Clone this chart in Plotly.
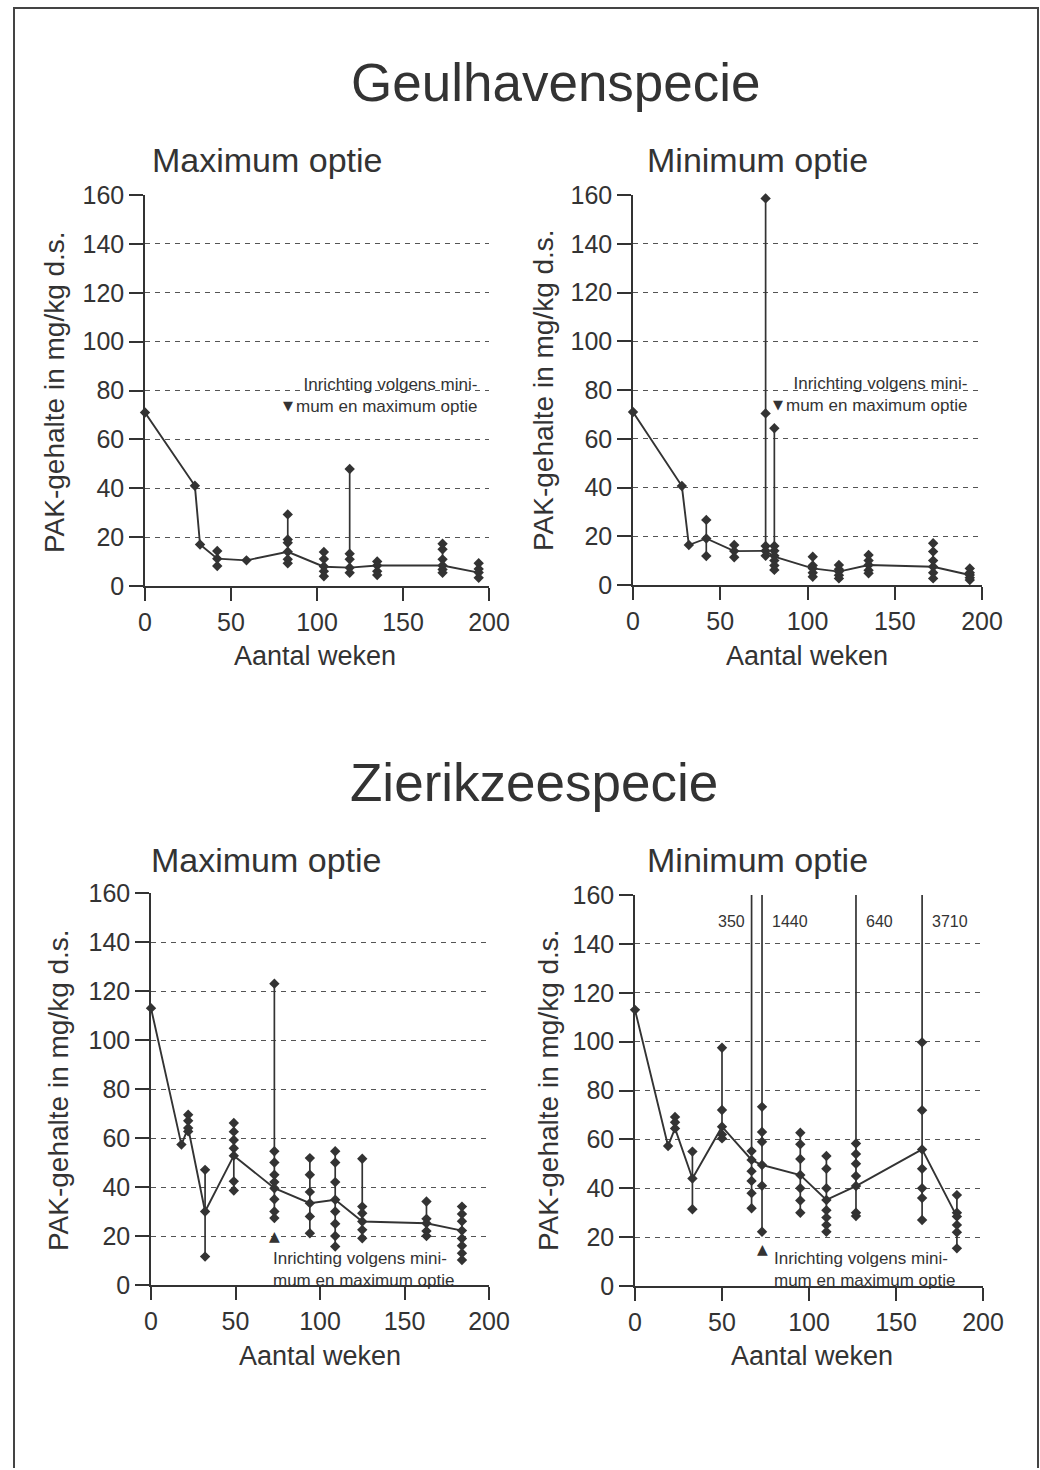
import plotly.graph_objects as go

# ---------------- data ----------------
# Geulhavenspecie - Maximum optie
geul_max_weeks = [0, 29, 32, 42, 59, 83, 104, 119, 135, 173, 194]
geul_max_central = [71, 41, 17, 11.2, 10.5, 14, 7.9, 7.5, 8.4, 8.4, 5.5]
geul_max_samples = [[71], [41], [17], [14.3, 11.2, 8.2], [10.5],
                    [29.3, 19, 17.7, 14, 10.9, 9.3], [13.9, 11, 8, 6, 4],
                    [47.9, 13.2, 10.9, 7.5, 5.4], [10, 8.4, 6, 4.5],
                    [17.3, 15, 10.9, 8.4, 6.8, 5.4], [9.3, 7, 5.5, 3.4]]

# Geulhavenspecie - Minimum optie
geul_min_weeks = [0, 28, 32, 42, 58, 76, 81, 103, 118, 135, 172, 193]
geul_min_central = [71, 40.6, 16.4, 19.1, 13.9, 14.0, 11.6, 6.8, 5.5, 8.2, 7.5, 4.1]
geul_min_samples = [[71], [40.6], [16.4], [26.7, 19.1, 11.9], [16.4, 13.9, 11.4],
                    [158.6, 70.4, 16, 14, 12], [64.3, 16, 14, 12, 10, 8, 6.2],
                    [11.6, 8, 6.8, 5, 3.4], [8.2, 6.5, 5.5, 4, 2.7],
                    [12.3, 10, 8.2, 6, 4.8], [17.1, 13.7, 10, 7.5, 5, 2.7],
                    [6.8, 5, 4.1, 3, 2]]

# Zierikzeespecie - Maximum optie
zier_max_weeks = [0, 18, 22, 32, 49, 73, 94, 109, 125, 163, 184]
zier_max_central = [113, 57.3, 64.1, 30, 52.8, 39.5, 33.4, 34.8, 25.9, 25.2, 22.2]
zier_max_samples = [[113], [57.3], [69.5, 67, 64.1, 62.7], [47, 30, 11.6],
                    [66.1, 62.6, 59.2, 55.8, 52.8, 42.3, 38.6],
                    [123, 54.6, 50, 45, 42, 39.5, 35, 30, 27.3],
                    [51.8, 45, 38, 33.4, 28, 21.1],
                    [54.6, 50, 42, 34.8, 30, 25, 20, 15.7],
                    [51.5, 32, 29.3, 25.9, 22.5, 19.1],
                    [34.1, 27, 25.2, 22, 20],
                    [32, 29, 26, 22.2, 19, 16, 13, 10.2]]

# Zierikzeespecie - Minimum optie
zier_min_weeks = [0, 19, 23, 33, 50, 67, 73, 95, 110, 127, 165, 185]
zier_min_central = [113, 57.3, 64.5, 44, 65.2, 51.6, 49.5, 45.4, 35.2, 40.9, 55.9, 28.4]
zier_min_samples = [[113], [57.3], [69.2, 67, 64.5], [55, 44, 31.4],
                    [97.5, 72, 65.2, 62, 60.4],
                    [350, 55.2, 51.6, 47, 43, 38, 31.8],
                    [1440, 73.3, 63, 59, 49.5, 41, 22.2],
                    [62.7, 58, 52, 45.4, 40, 35, 30],
                    [53.2, 48, 40, 35.2, 31, 28, 25, 22.2],
                    [640, 58.3, 54, 50, 45, 40.9, 30, 28.6],
                    [3710, 99.7, 71.9, 55.9, 48, 40, 36, 27],
                    [37.2, 30, 28.4, 25, 22, 15.4]]

# week of "Inrichting volgens minimum en maximum optie"
event_week_geul = 83
event_week_zier = 73

x_ticks = [0, 50, 100, 150, 200]
y_ticks = [0, 20, 40, 60, 80, 100, 120, 140, 160]
Y_MAX = 160

# ---------------- layout helpers ----------------
W, H = 1040, 1470
INK = "#333333"
FONT = "Liberation Sans, Arial, sans-serif"


def px(x):
    return x / W


def py(y):
    return 1 - y / H


fig = go.Figure()

panels = [
    dict(weeks=geul_max_weeks, central=geul_max_central, samples=geul_max_samples,
         xd=[145, 489], yd=[586, 195]),
    dict(weeks=geul_min_weeks, central=geul_min_central, samples=geul_min_samples,
         xd=[633, 982], yd=[585, 195]),
    dict(weeks=zier_max_weeks, central=zier_max_central, samples=zier_max_samples,
         xd=[151, 489], yd=[1285, 893]),
    dict(weeks=zier_min_weeks, central=zier_min_central, samples=zier_min_samples,
         xd=[635, 983], yd=[1286, 895]),
]

for i, p in enumerate(panels):
    sfx = "" if i == 0 else str(i + 1)
    xa, ya = "x" + sfx, "y" + sfx
    # vertical ranges
    rx, ry = [], []
    for w, s in zip(p["weeks"], p["samples"]):
        if len(s) > 1:
            rx += [w, w, None]
            ry += [min(s), max(s), None]
    fig.add_trace(go.Scatter(x=rx, y=ry, mode="lines", xaxis=xa, yaxis=ya,
                             line=dict(color=INK, width=1.7), showlegend=False,
                             hoverinfo="skip"))
    # central line
    fig.add_trace(go.Scatter(x=p["weeks"], y=p["central"], mode="lines", xaxis=xa, yaxis=ya,
                             line=dict(color=INK, width=1.9), showlegend=False))
    # individual samples (only those within the visible range)
    mx, my = [], []
    for w, s in zip(p["weeks"], p["samples"]):
        for v in s:
            if v <= Y_MAX:
                mx.append(w)
                my.append(v)
    fig.add_trace(go.Scatter(x=mx, y=my, mode="markers", xaxis=xa, yaxis=ya,
                             marker=dict(symbol="diamond", size=8, color=INK),
                             cliponaxis=False, showlegend=False))
    # labels for values exceeding the axis
    if i == 3:
        for w, s in zip(p["weeks"], p["samples"]):
            top = max(s)
            if top > Y_MAX:
                left = w < 70
                fig.add_annotation(x=w, y=149, xref=xa, yref=ya, text=f"{top:g}",
                                   showarrow=False,
                                   xanchor="right" if left else "left",
                                   xshift=-5 if left else 8,
                                   font=dict(family=FONT, size=16, color=INK))

    axis_common = dict(showline=True, linecolor=INK, linewidth=1.5,
                       ticks="outside", tickcolor=INK, tickwidth=1.5,
                       tickfont=dict(family=FONT, size=25, color=INK),
                       zeroline=False, automargin=False)
    fig.update_layout(**{
        ("xaxis" + sfx): dict(domain=[px(p["xd"][0]), px(p["xd"][1])], range=[0, 200],
                              tickvals=x_ticks, ticklen=13, showgrid=False,
                              anchor=ya, **axis_common),
        ("yaxis" + sfx): dict(domain=[py(p["yd"][0]), py(p["yd"][1])], range=[0, Y_MAX],
                              tickvals=y_ticks, ticklen=14, showgrid=True,
                              gridcolor="#555555", gridwidth=1.2, griddash="5px,5px",
                              anchor=xa, **axis_common),
    })

# ---------------- text ----------------
def txt(x, y, s, size, angle=0, anchor="center"):
    fig.add_annotation(x=px(x), y=py(y), xref="paper", yref="paper", text=s,
                       showarrow=False, textangle=angle, xanchor=anchor, yanchor="middle",
                       font=dict(family=FONT, size=size, color=INK))


txt(556, 82, "Geulhavenspecie", 53)
txt(534, 783, "Zierikzeespecie", 53)
txt(267, 160, "Maximum optie", 34)
txt(757, 160, "Minimum optie", 34)
txt(266, 860, "Maximum optie", 34)
txt(757, 860, "Minimum optie", 34)
for x, y in [(315, 656), (807, 656), (320, 1356), (812, 1356)]:
    txt(x, y, "Aantal weken", 27)
for x, y in [(55, 392), (543, 390), (58, 1090), (548, 1090)]:
    txt(x, y, "PAK-gehalte in mg/kg d.s.", 28, angle=-90)

note = "Inrichting volgens mini-<br>mum en maximum optie"
note_font = dict(family=FONT, size=17, color=INK)
# top panels: arrow pointing down
for xa, ya in [("x", "y"), ("x2", "y2")]:
    fig.add_annotation(x=event_week_geul, y=74, xref=xa, yref=ya, text="▼",
                       showarrow=False, font=dict(family="DejaVu Sans", size=13, color=INK))
    fig.add_annotation(x=event_week_geul, y=78, xref=xa, yref=ya, text=note,
                       showarrow=False, xanchor="left", yanchor="middle", align="right",
                       xshift=6, font=note_font)
# bottom panels: arrow pointing up
for xa, ya, yv, ytxt, xs in [("x3", "y3", 20, 15.5, -3), ("x4", "y4", 15, 16, 10)]:
    fig.add_annotation(x=event_week_zier, y=yv, xref=xa, yref=ya, text="▲",
                       showarrow=False, font=dict(family="DejaVu Sans", size=14, color=INK))
    fig.add_annotation(x=event_week_zier, y=ytxt, xref=xa, yref=ya, text=note,
                       showarrow=False, xanchor="left", yanchor="top", align="left",
                       xshift=xs, font=note_font)

# page border
fig.add_shape(type="path", xref="paper", yref="paper",
              path=f"M {px(14)},{py(1468)} L {px(14)},{py(8)} L {px(1038)},{py(8)} L {px(1038)},{py(1468)}",
              line=dict(color="#444444", width=2))

fig.update_layout(width=W, height=H, margin=dict(l=0, r=0, t=0, b=0, autoexpand=False),
                  paper_bgcolor="white", plot_bgcolor="white",
                  font=dict(family=FONT, color=INK))

fig.write_html("out.html", config={"displayModeBar": False},
               post_script="document.body.style.margin='0';document.body.style.overflow='hidden';")
